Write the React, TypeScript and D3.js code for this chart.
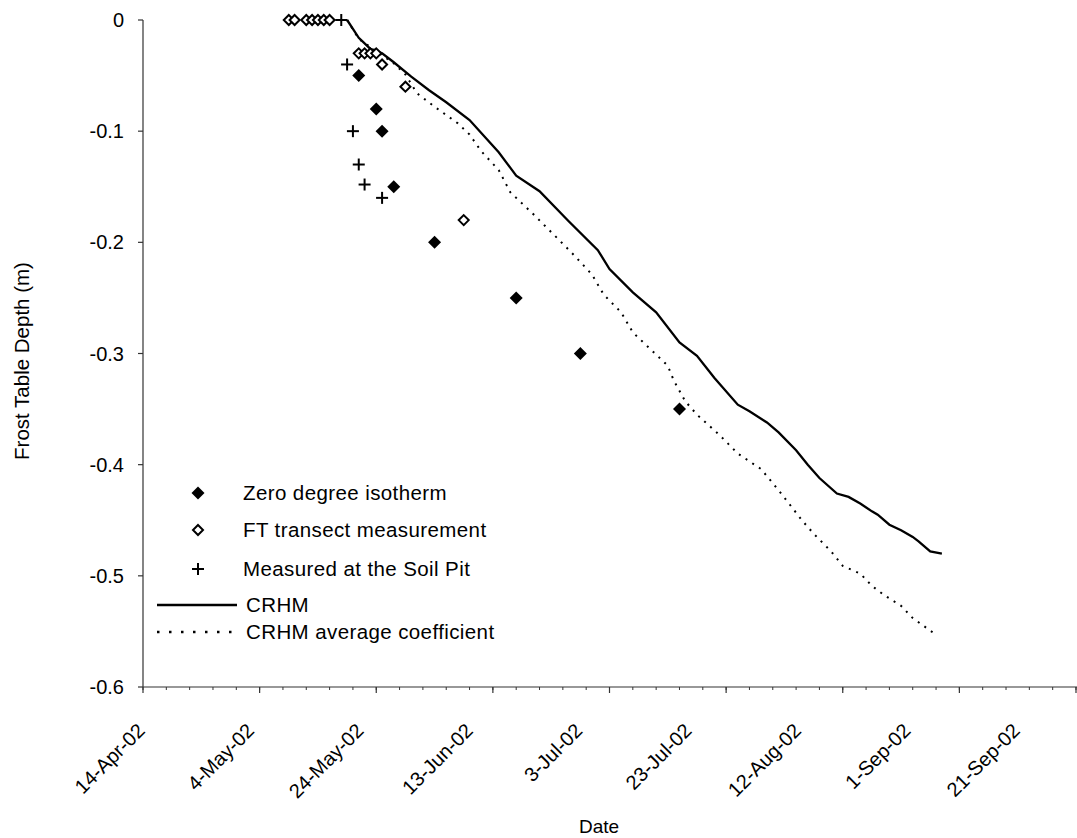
import React from "react";
import * as d3 from "d3";

const W = 1077;
const H = 838;

const xTickDates = ["2002-04-14", "2002-05-04", "2002-05-24", "2002-06-13", "2002-07-03", "2002-07-23", "2002-08-12", "2002-09-01", "2002-09-21"];
const xTickLabels = ["14-Apr-02", "4-May-02", "24-May-02", "13-Jun-02", "3-Jul-02", "23-Jul-02", "12-Aug-02", "1-Sep-02", "21-Sep-02"];
const yTicks = [0, -0.1, -0.2, -0.3, -0.4, -0.5, -0.6];
const yTickLabels = ["0", "-0.1", "-0.2", "-0.3", "-0.4", "-0.5", "-0.6"];

const isothermDates = ["2002-05-21", "2002-05-24", "2002-05-25", "2002-05-27", "2002-06-03", "2002-06-17", "2002-06-28", "2002-07-15"];
const isothermDepths = [-0.05, -0.08, -0.1, -0.15, -0.2, -0.25, -0.3, -0.35];

const transectDates = ["2002-05-09", "2002-05-10", "2002-05-12", "2002-05-13", "2002-05-14", "2002-05-15", "2002-05-16", "2002-05-21", "2002-05-22", "2002-05-23", "2002-05-24", "2002-05-25", "2002-05-29", "2002-06-08"];
const transectDepths = [0, 0, 0, 0, 0, 0, 0, -0.03, -0.03, -0.03, -0.03, -0.04, -0.06, -0.18];

const soilPitDates = ["2002-05-18", "2002-05-19", "2002-05-20", "2002-05-21", "2002-05-22", "2002-05-25"];
const soilPitDepths = [0, -0.04, -0.1, -0.13, -0.148, -0.16];

const crhmDates = ["2002-05-19", "2002-05-20", "2002-05-21", "2002-05-23", "2002-05-25", "2002-05-27", "2002-05-30", "2002-06-02", "2002-06-05", "2002-06-09", "2002-06-14", "2002-06-17", "2002-06-21", "2002-06-26", "2002-07-01", "2002-07-03", "2002-07-07", "2002-07-11", "2002-07-15", "2002-07-18", "2002-07-21", "2002-07-25", "2002-07-27", "2002-07-30", "2002-08-01", "2002-08-04", "2002-08-06", "2002-08-08", "2002-08-11", "2002-08-13", "2002-08-15", "2002-08-17", "2002-08-18", "2002-08-20", "2002-08-22", "2002-08-24", "2002-08-25", "2002-08-27", "2002-08-29"];
const crhmDepths = [0, -0.008, -0.016, -0.026, -0.03, -0.038, -0.051, -0.063, -0.074, -0.09, -0.119, -0.14, -0.154, -0.181, -0.207, -0.224, -0.245, -0.263, -0.29, -0.302, -0.322, -0.346, -0.352, -0.362, -0.371, -0.387, -0.4, -0.412, -0.426, -0.429, -0.435, -0.442, -0.445, -0.454, -0.459, -0.465, -0.469, -0.478, -0.48];

const crhmAvgDates = ["2002-05-19", "2002-05-21", "2002-05-24", "2002-05-27", "2002-05-29", "2002-05-31", "2002-06-03", "2002-06-07", "2002-06-09", "2002-06-11", "2002-06-14", "2002-06-16", "2002-06-20", "2002-06-24", "2002-06-27", "2002-06-30", "2002-07-02", "2002-07-05", "2002-07-07", "2002-07-10", "2002-07-13", "2002-07-14", "2002-07-16", "2002-07-18", "2002-07-22", "2002-07-25", "2002-07-29", "2002-08-01", "2002-08-05", "2002-08-07", "2002-08-10", "2002-08-12", "2002-08-15", "2002-08-17", "2002-08-19", "2002-08-22", "2002-08-24", "2002-08-28"];
const crhmAvgDepths = [0, -0.017, -0.028, -0.039, -0.049, -0.066, -0.078, -0.093, -0.103, -0.118, -0.135, -0.155, -0.175, -0.196, -0.212, -0.229, -0.247, -0.263, -0.281, -0.296, -0.311, -0.324, -0.343, -0.355, -0.374, -0.39, -0.404, -0.423, -0.45, -0.462, -0.478, -0.491, -0.498, -0.509, -0.517, -0.527, -0.538, -0.553];

const legendLabels = ["Zero degree isotherm", "FT transect measurement", "Measured at the Soil Pit", "CRHM", "CRHM average coefficient"];

const FONT = "'Liberation Sans', Arial, Helvetica, sans-serif";

const parse = d3.utcParse("%Y-%m-%d");

function zip(dates: string[], vals: number[]) {
  return dates.map((d, i) => ({ date: parse(d) as Date, v: vals[i] }));
}

const diamondPath = (r: number) => `M0,${-r}L${r},0L0,${r}L${-r},0Z`;

function FilledDiamond({ x, y }: { x: number; y: number }) {
  return <path d={diamondPath(6.5)} transform={`translate(${x},${y})`} fill="#000" />;
}
function OpenDiamond({ x, y }: { x: number; y: number }) {
  return <path d={diamondPath(5)} transform={`translate(${x},${y})`} fill="#fff" stroke="#000" strokeWidth={2} />;
}
function Plus({ x, y }: { x: number; y: number }) {
  return (
    <g transform={`translate(${x},${y})`} stroke="#000" strokeWidth={2}>
      <line x1={-6} x2={6} y1={0} y2={0} />
      <line x1={0} x2={0} y1={-6} y2={6} />
    </g>
  );
}

export default function App() {
  const start = parse("2002-04-14") as Date;
  const x = d3.scaleUtc().domain([start, parse("2002-09-21") as Date]).range([143, 1076]);
  const y = d3.scaleLinear().domain([0, -0.6]).range([20, 687]);
  const x0 = 143;
  const yBase = 687;

  const minorAll = d3.range(0, 161, 4).map((d) => d3.utcDay.offset(start, d));

  const line = d3
    .line<{ date: Date; v: number }>()
    .x((d) => x(d.date))
    .y((d) => y(d.v));

  const iso = zip(isothermDates, isothermDepths);
  const tr = zip(transectDates, transectDepths);
  const sp = zip(soilPitDates, soilPitDepths);
  const crhm = zip(crhmDates, crhmDepths);
  const crhmAvg = zip(crhmAvgDates, crhmAvgDepths);

  const legendRowsY = [493, 530, 569, 605, 632];
  // rotated labels in the printed original drift slightly left of their ticks
  const labelX = (px: number) => 146 + 0.938 * (px - x0);

  return (
    <svg width={W} height={H} style={{ position: "absolute", left: 0, top: 0, background: "#fff" }} fontFamily={FONT}>
      <rect x={0} y={0} width={W} height={H} fill="#fff" />
      {/* axes */}
      <line x1={x0} x2={x0} y1={20} y2={yBase} stroke="#333" strokeWidth={1.2} />
      <line x1={x0} x2={W} y1={yBase} y2={yBase} stroke="#333" strokeWidth={1.2} />
      {yTicks.map((t, i) => (
        <g key={"yt" + i}>
          <line x1={x0 - 5} x2={x0} y1={y(t)} y2={y(t)} stroke="#333" strokeWidth={1.2} />
          <text x={124} y={y(t) + 7} textAnchor="end" fontSize={20} fill="#000">
            {yTickLabels[i]}
          </text>
        </g>
      ))}
      {minorAll.map((d, i) => (
        <line key={"mt" + i} x1={x(d)} x2={x(d)} y1={yBase} y2={yBase + 3} stroke="#333" strokeWidth={1} />
      ))}
      {xTickDates.map((s, i) => {
        const px = x(parse(s) as Date);
        return (
          <g key={"xt" + i}>
            <line x1={px} x2={px} y1={yBase} y2={yBase + 6} stroke="#333" strokeWidth={1.2} />
            <text
              transform={`translate(${labelX(px)},${yBase + 45}) rotate(-45)`}
              textAnchor="end"
              fontSize={20}
              fill="#000"
            >
              {xTickLabels[i]}
            </text>
          </g>
        );
      })}
      <text x={599} y={833} textAnchor="middle" fontSize={19} fill="#000">
        Date
      </text>
      <text transform={`translate(29,361) rotate(-90)`} textAnchor="middle" fontSize={20.5} fill="#000">
        Frost Table Depth (m)
      </text>

      {/* lines */}
      <path d={line(crhmAvg) || ""} fill="none" stroke="#000" strokeWidth={2} strokeDasharray="2,6" />
      <path d={line(crhm) || ""} fill="none" stroke="#000" strokeWidth={2.3} />

      {/* markers */}
      {tr.map((d, i) => (
        <OpenDiamond key={"tr" + i} x={x(d.date)} y={y(d.v)} />
      ))}
      {iso.map((d, i) => (
        <FilledDiamond key={"iso" + i} x={x(d.date)} y={y(d.v)} />
      ))}
      {sp.map((d, i) => (
        <Plus key={"sp" + i} x={x(d.date)} y={y(d.v)} />
      ))}

      {/* legend */}
      <g fontSize={20.5} fill="#000" letterSpacing={0.4}>
        <FilledDiamond x={198} y={legendRowsY[0]} />
        <text x={243} y={legendRowsY[0] + 7}>{legendLabels[0]}</text>
        <OpenDiamond x={198} y={legendRowsY[1]} />
        <text x={243} y={legendRowsY[1] + 7}>{legendLabels[1]}</text>
        <Plus x={198} y={legendRowsY[2]} />
        <text x={243} y={legendRowsY[2] + 7}>{legendLabels[2]}</text>
        <line x1={157} x2={237} y1={legendRowsY[3]} y2={legendRowsY[3]} stroke="#000" strokeWidth={2.3} />
        <text x={246} y={legendRowsY[3] + 7}>{legendLabels[3]}</text>
        <line x1={157} x2={237} y1={legendRowsY[4]} y2={legendRowsY[4]} stroke="#000" strokeWidth={2.5} strokeDasharray="2.5,9.5" />
        <text x={246} y={legendRowsY[4] + 7}>{legendLabels[4]}</text>
      </g>
    </svg>
  );
}
